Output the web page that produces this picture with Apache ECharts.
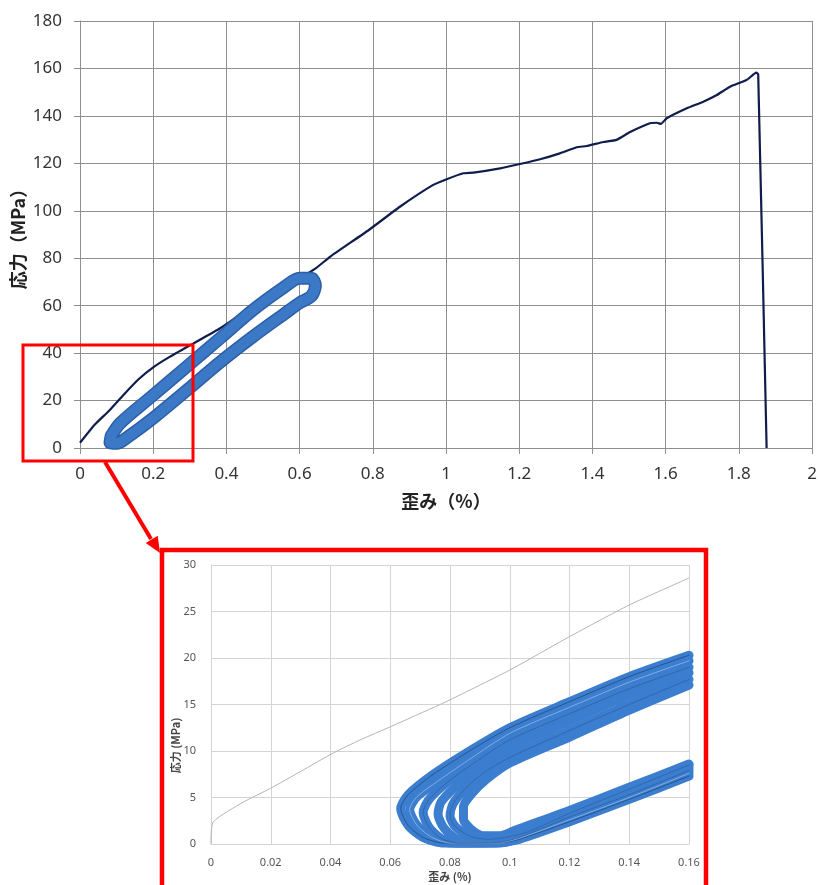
<!DOCTYPE html>
<html>
<head>
<meta charset="utf-8">
<script src="https://cdn.jsdelivr.net/npm/echarts@6/dist/echarts.min.js"></script>
<style>
  html, body { margin: 0; padding: 0; background: #fff; }
  #chart { width: 820px; height: 885px; }
</style>
</head>
<body>
<div id="chart"></div>
<script>
// 引張試験 全体 (歪み %, 応力 MPa)
const envelope = [
  [0, 2.2], [0.04, 9.8], [0.08, 15.8], [0.12, 22.6], [0.16, 29.0], [0.2, 34.0], [0.246, 38.5],
  [0.31, 44.1], [0.383, 50.5], [0.437, 56.1], [0.5, 62], [0.56, 68], [0.642, 75.5], [0.683, 80.6],
  [0.79, 92], [0.874, 101.7], [0.965, 110.9], [1.002, 113.3], [1.047, 115.8], [1.075, 116.1],
  [1.148, 117.9], [1.202, 119.7], [1.257, 121.7], [1.311, 124.2], [1.357, 126.8], [1.384, 127.3],
  [1.43, 129.0], [1.466, 129.9], [1.503, 133.2], [1.557, 136.9], [1.576, 137.1], [1.587, 136.6],
  [1.603, 139], [1.658, 143.2], [1.703, 146], [1.74, 148.8], [1.776, 152.3], [1.821, 155.1],
  [1.848, 158.2], [1.853, 157.6], [1.876, 0]
];

// 繰返し負荷のループ (全体図)
const cycleLoop = [
  [0.085, 5.0], [0.11, 10.5], [0.2, 22.3], [0.291, 34.2], [0.383, 46.3], [0.473, 58.2],
  [0.556, 67.6], [0.6, 71.6], [0.632, 71.6], [0.643, 68.5], [0.632, 64.0], [0.6, 61.2],
  [0.556, 56.3], [0.473, 47.0], [0.383, 36.2], [0.291, 24.2], [0.2, 12.6], [0.13, 4.6],
  [0.1, 2.0], [0.082, 2.3], [0.085, 5.0]
];

// 拡大図
const zoomEnvelope = [
  [0, 0], [0, 0.4], [0.0008, 2.4], [0.0108, 4.5], [0.02, 6.0], [0.03, 7.8], [0.041, 9.8],
  [0.05, 11.2], [0.06, 12.6], [0.0767, 15.0], [0.08, 15.5], [0.1, 18.7], [0.12, 22.3],
  [0.14, 25.7], [0.16, 28.6]
];

const zoomLoop1 = [[0.16,20.3],[0.14,18.0],[0.12,15.3],[0.10,12.5],[0.085,9.7],[0.074,7.4],[0.066,5.3],[0.0635,3.8],[0.066,2.0],[0.071,0.7],[0.078,0.1],[0.095,0.1],[0.102,0.4],[0.12,2.4],[0.14,4.8],[0.16,7.3]];
const zoomLoop2 = [[0.16,19.7],[0.14,17.4],[0.12,14.7],[0.10,11.9],[0.087,9.2],[0.077,7.0],[0.069,5.1],[0.0665,3.7],[0.069,2.0],[0.074,0.7],[0.08,0.1],[0.096,0.1],[0.103,0.6],[0.12,2.6],[0.14,5.0],[0.16,7.6]];
const zoomLoop3 = [[0.16,19.0],[0.14,16.7],[0.12,14.0],[0.10,11.2],[0.088,8.7],[0.079,6.6],[0.073,4.8],[0.071,3.4],[0.073,1.8],[0.077,0.6],[0.083,0.1],[0.097,0.2],[0.104,0.8],[0.12,2.9],[0.14,5.3],[0.16,7.9]];
const zoomLoop4 = [[0.16,18.4],[0.14,16.0],[0.12,13.2],[0.10,10.3],[0.09,8.2],[0.082,6.2],[0.077,4.5],[0.076,3.2],[0.078,1.7],[0.082,0.6],[0.088,0.2],[0.098,0.4],[0.105,1.0],[0.12,3.1],[0.14,5.6],[0.16,8.2]];
const zoomLoop5 = [[0.16,17.7],[0.14,15.0],[0.12,12.2],[0.10,9.3],[0.091,7.6],[0.085,5.9],[0.081,4.3],[0.080,3.0],[0.082,1.8],[0.087,0.8],[0.093,0.5],[0.10,0.8],[0.106,1.3],[0.12,3.3],[0.14,5.9],[0.16,8.5]];
const zoomLoop6 = [[0.16,17.1],[0.14,14.4],[0.12,11.5],[0.10,8.7],[0.092,6.9],[0.087,5.3],[0.0845,4.0],[0.0845,2.7],[0.087,1.6],[0.091,0.9],[0.097,0.9],[0.102,1.5],[0.12,3.6],[0.14,6.1],[0.16,8.6]];
const zoomLoops = [zoomLoop1, zoomLoop2, zoomLoop3, zoomLoop4, zoomLoop5, zoomLoop6];

const strainName = '歪み（%）';
const stressName = '応力（MPa）';

var dom = document.getElementById('chart');
var myChart = echarts.init(dom, null, { renderer: 'canvas' });

const gridColor = '#8f8f8f';
const smallGrid = '#d4d4d4';

function loopSeries(data, width, color, opacity) {
  return {
    type: 'line',
    xAxisIndex: 1,
    yAxisIndex: 1,
    data: data,
    showSymbol: false,
    smooth: 0.25,
    silent: true,
    lineStyle: { width: width, color: color, opacity: opacity, cap: 'round', join: 'round' }
  };
}

const option = {
  animation: false,
  backgroundColor: '#fff',
  textStyle: { fontFamily: 'Noto Sans, Noto Sans CJK JP' },
  grid: [
    { left: 80, top: 21, width: 732, height: 427 },
    { left: 211, top: 565, width: 478, height: 279 }
  ],
  xAxis: [
    {
      type: 'value', gridIndex: 0, min: 0, max: 2, interval: 0.2,
      name: strainName, nameLocation: 'middle', nameGap: 44, nameMoveOverlap: false,
      nameTextStyle: { fontFamily: 'Noto Sans CJK JP', fontWeight: 'bold', fontSize: 18, color: '#222' },
      axisLine: { show: true, lineStyle: { color: gridColor } },
      axisTick: { show: true, length: 6, lineStyle: { color: gridColor } },
      axisLabel: { fontSize: 17, color: '#333', margin: 18 },
      splitLine: { lineStyle: { color: gridColor, width: 1 } }
    },
    {
      type: 'value', gridIndex: 1, min: 0, max: 0.16, interval: 0.02,
      name: '歪み (%)', nameLocation: 'middle', nameGap: 27, nameMoveOverlap: false,
      nameTextStyle: { fontFamily: 'Noto Sans CJK JP', fontWeight: 'bold', fontSize: 11, color: '#444' },
      axisLine: { show: true, lineStyle: { color: smallGrid } },
      axisTick: { show: false },
      axisLabel: { fontSize: 11, color: '#555', margin: 13 },
      splitLine: { lineStyle: { color: smallGrid, width: 1 } }
    }
  ],
  yAxis: [
    {
      type: 'value', gridIndex: 0, min: 0, max: 180, interval: 20,
      name: stressName, nameLocation: 'middle', nameGap: 53, nameMoveOverlap: false,
      nameTextStyle: { fontFamily: 'Noto Sans CJK JP', fontWeight: 'bold', fontSize: 18, color: '#222' },
      axisLine: { show: true, lineStyle: { color: gridColor } },
      axisTick: { show: true, length: 6, lineStyle: { color: gridColor } },
      axisLabel: { fontSize: 17, color: '#333', margin: 18 },
      splitLine: { lineStyle: { color: gridColor, width: 1 } }
    },
    {
      type: 'value', gridIndex: 1, min: 0, max: 30, interval: 5,
      name: '応力 (MPa)', nameLocation: 'middle', nameGap: 30, nameMoveOverlap: false,
      nameTextStyle: { fontFamily: 'Noto Sans CJK JP', fontWeight: 'bold', fontSize: 11, color: '#444', padding: [0, 82, 0, 0] },
      axisLine: { show: true, lineStyle: { color: smallGrid } },
      axisTick: { show: false },
      axisLabel: { fontSize: 11, color: '#555', margin: 15 },
      splitLine: { lineStyle: { color: smallGrid, width: 1 } }
    }
  ],
  series: [
    {
      type: 'line', xAxisIndex: 0, yAxisIndex: 0, data: envelope,
      showSymbol: false, silent: true, smooth: 0.15,
      lineStyle: { width: 2.2, color: '#101c4c', join: 'round' }
    },
    {
      type: 'line', xAxisIndex: 0, yAxisIndex: 0, data: cycleLoop,
      showSymbol: false, smooth: 0.3, silent: true,
      lineStyle: { width: 13, color: '#2c5fa6', cap: 'round', join: 'round' }
    },
    {
      type: 'line', xAxisIndex: 0, yAxisIndex: 0, data: cycleLoop,
      showSymbol: false, smooth: 0.3, silent: true,
      lineStyle: { width: 10, color: '#3b78c6', cap: 'round', join: 'round' }
    },
    {
      type: 'line', xAxisIndex: 1, yAxisIndex: 1, data: zoomEnvelope,
      showSymbol: false, silent: true, smooth: 0.2,
      lineStyle: { width: 1, color: '#b4b4b4' }
    }
  ]
    .concat(zoomLoops.map(function (d) { return loopSeries(d, 9, '#3b7dce', 1); }))
    .concat([
      loopSeries(zoomLoop1, 1, '#1d3a66', 0.6),
      loopSeries(zoomLoop2, 1, '#dbe7f6', 0.45),
      loopSeries(zoomLoop3, 1, '#2a4e80', 0.45),
      loopSeries(zoomLoop5, 1, '#1d3a66', 0.3)
    ]),
  graphic: [
    {
      type: 'rect', z: 100,
      shape: { x: 23, y: 345, width: 170, height: 116 },
      style: { fill: null, stroke: '#ff0000', lineWidth: 3 }
    },
    {
      type: 'line', z: 100,
      shape: { x1: 105, y1: 462, x2: 151, y2: 539 },
      style: { stroke: '#ff0000', lineWidth: 4 }
    },
    {
      type: 'polygon', z: 100,
      shape: { points: [[160, 553], [157.7, 535.7], [145.7, 542.9]] },
      style: { fill: '#ff0000' }
    },
    {
      type: 'rect', z: 100,
      shape: { x: 162, y: 550, width: 544, height: 345 },
      style: { fill: null, stroke: '#ff0000', lineWidth: 4.5 }
    }
  ]
};

if (option && typeof option === 'object') {
  myChart.setOption(option);
}

window.addEventListener('resize', myChart.resize);
</script>
</body>
</html>
